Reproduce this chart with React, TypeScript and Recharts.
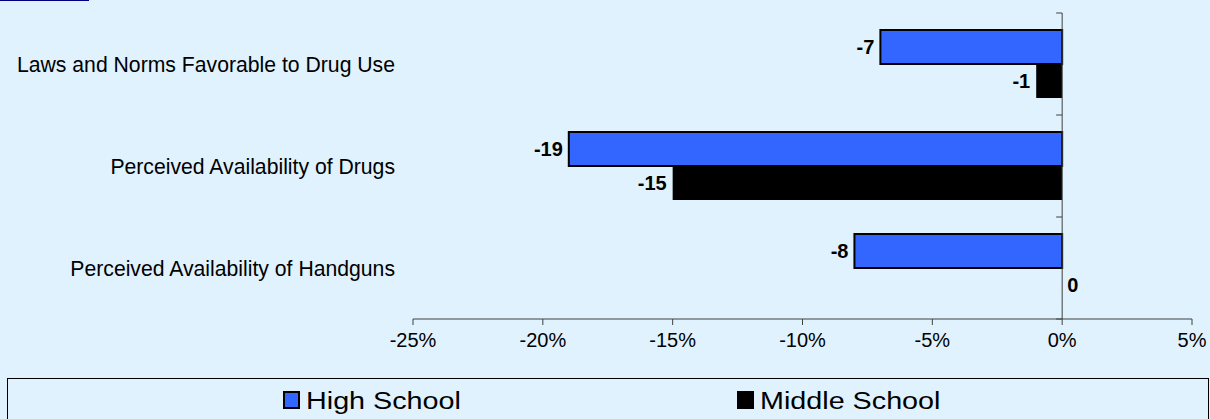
import { Bar, BarChart, LabelList, ReferenceLine, XAxis, YAxis } from 'recharts';

const categories = [
  'Laws and Norms Favorable to Drug Use',
  'Perceived Availability of Drugs',
  'Perceived Availability of Handguns',
];
const highSchool = [-7, -19, -8];
const middleSchool = [-1, -15, 0];
const seriesNames = ['High School', 'Middle School'];
const seriesColors = ['#3366FF', '#000000'];
const xTicks = [-25, -20, -15, -10, -5, 0, 5];

const data = categories.map((name, i) => ({ name, hs: highSchool[i], ms: middleSchool[i] }));

const FONT = '"Liberation Sans", Arial, sans-serif';
const AXIS = '#404040';
const BG = '#E0F2FE';

// value labels sit outside the bar end: left for negatives, right for zero/positive
function ValueLabel(props: any) {
  const vb = props.viewBox ?? props;
  const x = Number(vb.x ?? props.x);
  const y = Number(vb.y ?? props.y);
  const w = Number(vb.width ?? props.width ?? 0);
  const h = Number(vb.height ?? props.height ?? 0);
  const value = Number(props.value);
  const left = Math.min(x, x + w);
  const right = Math.max(x, x + w);
  const neg = value < 0;
  return (
    <text
      x={neg ? left - 6 : right + 5}
      y={y + h / 2}
      dy="0.36em"
      textAnchor={neg ? 'end' : 'start'}
      fontFamily={FONT}
      fontSize={20}
      fontWeight="bold"
      fill="#000"
    >
      {String(value)}
    </text>
  );
}

// the category axis crosses at 0, with tick marks on the category boundaries
function ZeroAxis(props: any) {
  const { x1, y1, y2 } = props;
  const top = Math.min(y1, y2);
  const bottom = Math.max(y1, y2);
  const step = (bottom - top) / categories.length;
  return (
    <g>
      <line x1={x1} y1={top} x2={x1} y2={bottom} stroke={AXIS} strokeWidth={1} />
      {Array.from({ length: categories.length + 1 }, (_, i) => (
        <line key={i} x1={x1 - 6} x2={x1} y1={top + i * step} y2={top + i * step} stroke={AXIS} strokeWidth={1} />
      ))}
    </g>
  );
}

function LegendBox() {
  const starts = [283, 737];
  return (
    <svg width={1210} height={419} style={{ position: 'absolute', left: 0, top: 0, pointerEvents: 'none' }}>
      <rect x={7.5} y={378.5} width={1201} height={60} fill="none" stroke="#000" strokeWidth={1} />
      {seriesNames.map((n, i) => (
        <g key={n}>
          <rect x={starts[i] + 1} y={392} width={15} height={16} fill={seriesColors[i]} stroke="#000" strokeWidth={2} />
          <text
            transform={`translate(${starts[i] + 23},409) scale(1.25,1)`}
            fontFamily={FONT}
            fontSize={23}
            fill="#000"
          >
            {n}
          </text>
        </g>
      ))}
    </svg>
  );
}

export default function App() {
  return (
    <div style={{ position: 'absolute', left: 0, top: 0, width: 1210, height: 419, background: BG, overflow: 'hidden' }}>
      <div style={{ position: 'absolute', left: 0, top: 0, width: 89, height: 1, background: '#000080' }} />
      <BarChart
        width={1210}
        height={360}
        data={data}
        layout="vertical"
        margin={{ top: 13, right: 18, left: 0, bottom: 0 }}
        barSize={34}
        barGap={0}
      >
        <XAxis
          type="number"
          domain={[-25, 5]}
          ticks={xTicks}
          tickFormatter={(v: number) => `${v}%`}
          height={41}
          tickSize={6}
          tickMargin={8}
          stroke={AXIS}
          tick={{ fill: '#000', fontSize: 20, fontFamily: FONT }}
          allowDataOverflow
        />
        <YAxis
          type="category"
          dataKey="name"
          width={413}
          axisLine={false}
          tickLine={false}
          tickSize={0}
          tickMargin={18}
          tick={{ fill: '#000', fontSize: 21.2, fontFamily: FONT }}
        />
        <Bar dataKey="hs" name={seriesNames[0]} fill={seriesColors[0]} stroke="#000" strokeWidth={2} isAnimationActive={false}>
          <LabelList dataKey="hs" content={ValueLabel} />
        </Bar>
        <Bar dataKey="ms" name={seriesNames[1]} fill={seriesColors[1]} minPointSize={0.01} isAnimationActive={false}>
          <LabelList dataKey="ms" content={ValueLabel} />
        </Bar>
        <ReferenceLine x={0} stroke={AXIS} shape={ZeroAxis} />
      </BarChart>
      <LegendBox />
    </div>
  );
}
